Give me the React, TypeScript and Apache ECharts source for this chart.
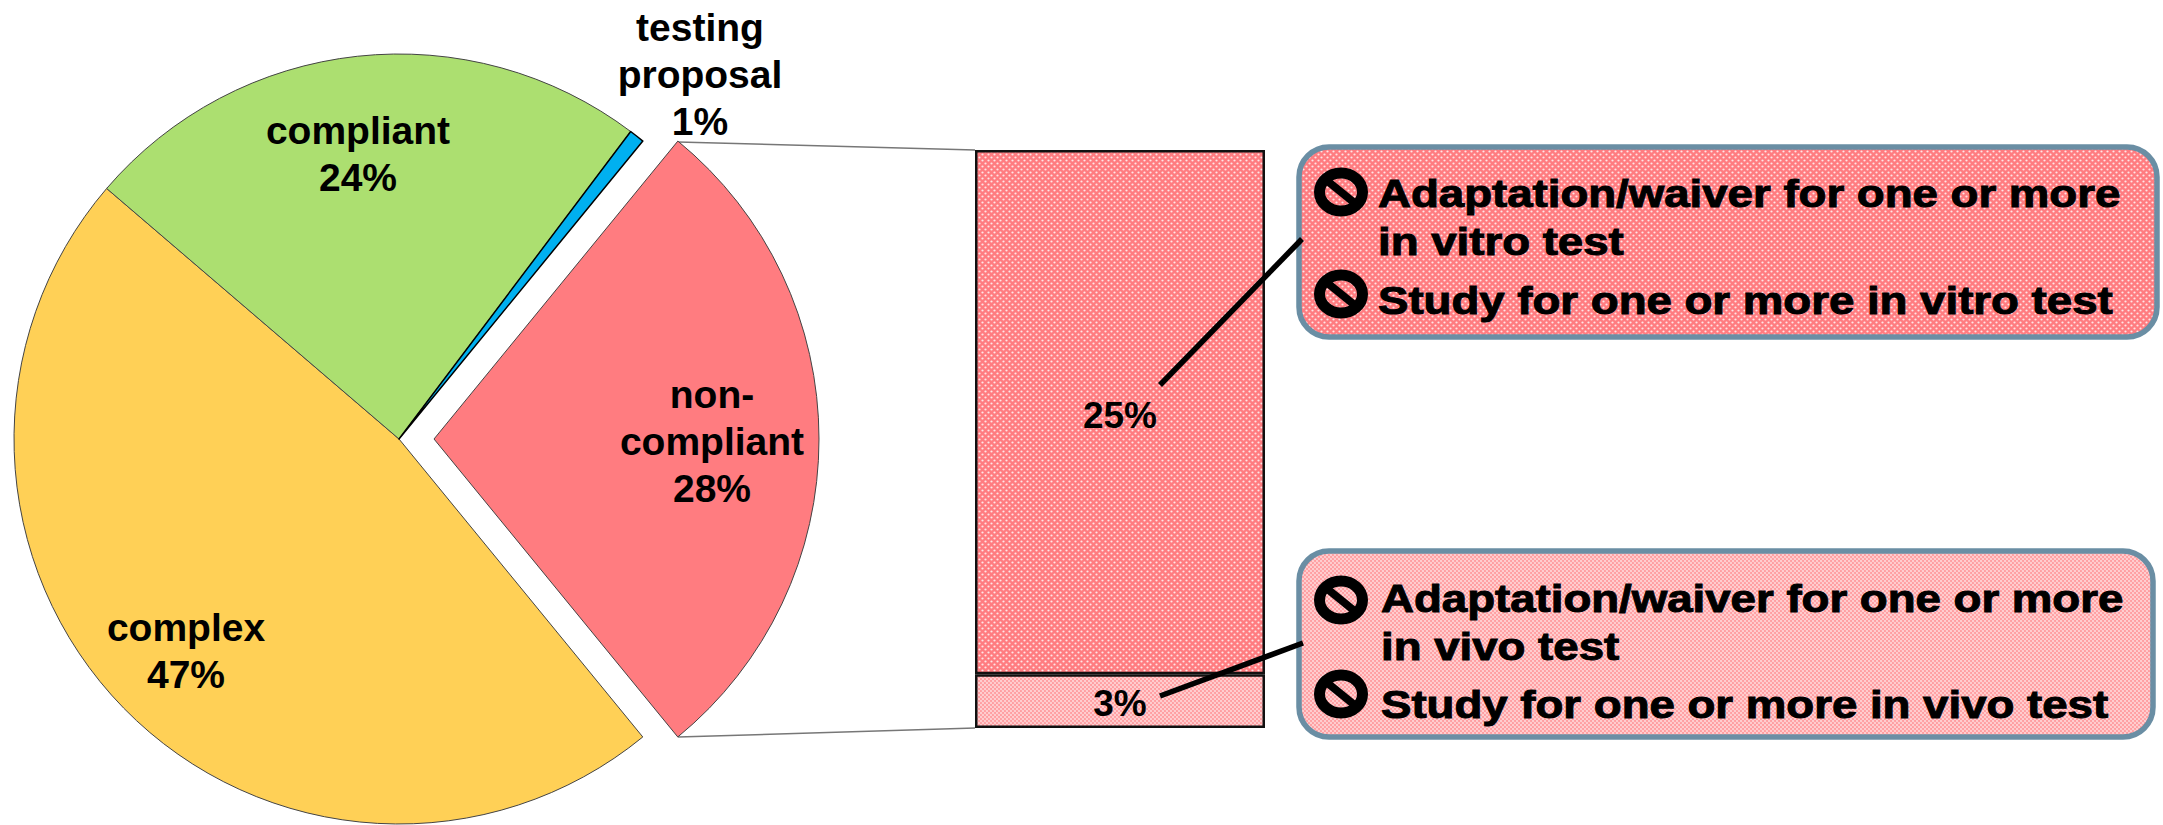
import React, { useEffect, useRef } from "react";
import * as echarts from "echarts";

const pieNames = ["non-\ncompliant", "complex", "compliant", "testing\nproposal"];
const pieValues = [28.17, 47.19, 24, 0.64];
const pieColors = ["#FF7C80", "#FFD056", "#ACDF70", "#00B0F0"];
const pieBorders = ["#444", "#444", "#444", "#000"];
const pieLabelCenters = [[712, 441], [186, 651], [358, 154], [700, 74]];

const barCategory = ["non-compliant"];
const barLowerValues = [2.6];
const barUpperValues = [25.4];
const barLowerLabel = "3%";
const barUpperLabel = "25%";

const box1Lines = ["Adaptation/waiver for one or more", "in vitro test", "Study for one or more in vitro test"];
const box2Lines = ["Adaptation/waiver for one or more", "in vivo test", "Study for one or more in vivo test"];

const FONT = '"Liberation Sans", Arial, sans-serif';

function makePattern(base: string, alpha: number, radius: number, tile: number) {
  const c = document.createElement("canvas");
  c.width = tile;
  c.height = tile;
  const g = c.getContext("2d")!;
  g.fillStyle = base;
  g.fillRect(0, 0, tile, tile);
  g.fillStyle = `rgba(255,255,255,${alpha})`;
  const dots = [[tile / 4, tile / 4], [(3 * tile) / 4, (3 * tile) / 4]];
  dots.forEach(([x, y]) => {
    g.beginPath();
    g.arc(x, y, radius, 0, Math.PI * 2);
    g.fill();
  });
  return { image: c, repeat: "repeat", imageWidth: tile, imageHeight: tile } as any;
}

function icon(cx: number, cy: number) {
  return [
    { type: "ellipse", z: 12, shape: { cx, cy, rx: 21.5, ry: 19 }, style: { fill: "none", stroke: "#000", lineWidth: 11 } },
    { type: "line", z: 12, shape: { x1: cx - 16, y1: cy - 13, x2: cx + 16, y2: cy + 13 }, style: { stroke: "#000", lineWidth: 8 } },
  ];
}

function textEl(text: string, x: number, baseline: number) {
  return {
    type: "text",
    z: 12,
    x,
    y: baseline + 7,
    scaleX: 1.2,
    style: { text, fill: "#000", stroke: "#000", lineWidth: 1, font: `700 38px ${FONT}`, align: "left", verticalAlign: "bottom" },
  };
}

export default function App() {
  const ref = useRef<HTMLDivElement>(null);
  useEffect(() => {
    document.body.style.margin = "0";
    const chart = echarts.init(ref.current!, undefined, { renderer: "svg" });
    const darkPattern = makePattern("#FF7C80", 0.8, 1.1, 6);
    const lightPattern = makePattern("#FF9EA1", 0.5, 1.2, 4);
    const lineStyle = { stroke: "#000", lineWidth: 5.5 };
    const connector = { stroke: "#777", lineWidth: 1.5 };
    const ghost = { itemStyle: { color: "transparent", borderWidth: 0 }, label: { show: false } };
    const pieBase = {
      type: "pie",
      radius: 385,
      startAngle: 50.7,
      clockwise: true,
      percentPrecision: 0,
      silent: true,
      avoidLabelOverlap: false,
      label: {
        position: "inside",
        formatter: "{b}\n{d}%",
        color: "#000",
        fontFamily: FONT,
        fontWeight: 700,
        fontSize: 39,
        lineHeight: 47,
        align: "center",
      },
      labelLine: { show: false },
    };
    chart.setOption({
      animation: false,
      grid: { left: 975, top: 150, width: 290, height: 578, containLabel: false },
      xAxis: { type: "category", data: barCategory, show: false },
      yAxis: { type: "value", min: 0, max: 28, show: false },
      series: [
        {
          ...pieBase,
          center: [399, 439],
          labelLayout: (p: any) => ({
            x: pieLabelCenters[p.dataIndex][0],
            y: pieLabelCenters[p.dataIndex][1],
            align: "center",
            verticalAlign: "middle",
          }),
          data: pieNames.map((name, i) =>
            i === 0
              ? { name: "", value: pieValues[0], ...ghost }
              : {
                  name,
                  value: pieValues[i],
                  itemStyle: { color: pieColors[i], borderColor: pieBorders[i], borderWidth: i === 3 ? 1.5 : 1 },
                }
          ),
        },
        {
          ...pieBase,
          center: [434, 439],
          labelLayout: () => ({
            x: pieLabelCenters[0][0],
            y: pieLabelCenters[0][1],
            align: "center",
            verticalAlign: "middle",
          }),
          data: [
            {
              name: pieNames[0],
              value: pieValues[0],
              itemStyle: { color: pieColors[0], borderColor: pieBorders[0], borderWidth: 1 },
            },
            { name: "", value: pieValues[1] + pieValues[2] + pieValues[3], ...ghost },
          ],
        },
        {
          type: "bar",
          stack: "total",
          barWidth: "100%",
          silent: true,
          data: barLowerValues,
          itemStyle: { color: lightPattern, borderColor: "#111", borderWidth: 2.5 },
          label: { show: true, position: "inside", offset: [0, 2], formatter: barLowerLabel, color: "#000", fontFamily: FONT, fontWeight: 700, fontSize: 37 },
        },
        {
          type: "bar",
          stack: "total",
          barWidth: "100%",
          silent: true,
          data: barUpperValues,
          itemStyle: { color: darkPattern, borderColor: "#111", borderWidth: 2.5 },
          label: { show: true, position: "inside", offset: [0, 3], formatter: barUpperLabel, color: "#000", fontFamily: FONT, fontWeight: 700, fontSize: 37 },
        },
      ],
      graphic: [
        { type: "line", z: 1, shape: { x1: 678, y1: 142, x2: 975, y2: 150 }, style: connector },
        { type: "line", z: 1, shape: { x1: 678, y1: 737, x2: 975, y2: 728 }, style: connector },
        { type: "rect", z: 10, shape: { x: 1299, y: 147, width: 858, height: 190, r: 30 }, style: { fill: darkPattern, stroke: "#6A8EA4", lineWidth: 5.5 } },
        { type: "rect", z: 10, shape: { x: 1299, y: 551, width: 854, height: 186, r: 30 }, style: { fill: lightPattern, stroke: "#6A8EA4", lineWidth: 5.5 } },
        { type: "line", z: 11, shape: { x1: 1160, y1: 385, x2: 1302, y2: 239 }, style: lineStyle },
        { type: "line", z: 11, shape: { x1: 1160, y1: 696, x2: 1303, y2: 643 }, style: lineStyle },
        ...icon(1341, 192),
        ...icon(1341, 294),
        ...icon(1341, 600),
        ...icon(1341, 694),
        textEl(box1Lines[0], 1378, 206),
        textEl(box1Lines[1], 1378, 254),
        textEl(box1Lines[2], 1378, 313),
        textEl(box2Lines[0], 1381, 611),
        textEl(box2Lines[1], 1381, 659),
        textEl(box2Lines[2], 1381, 717),
      ],
    });
    return () => chart.dispose();
  }, []);
  return <div ref={ref} style={{ position: "absolute", left: 0, top: 0, width: 2163, height: 825, background: "#fff" }} />;
}
